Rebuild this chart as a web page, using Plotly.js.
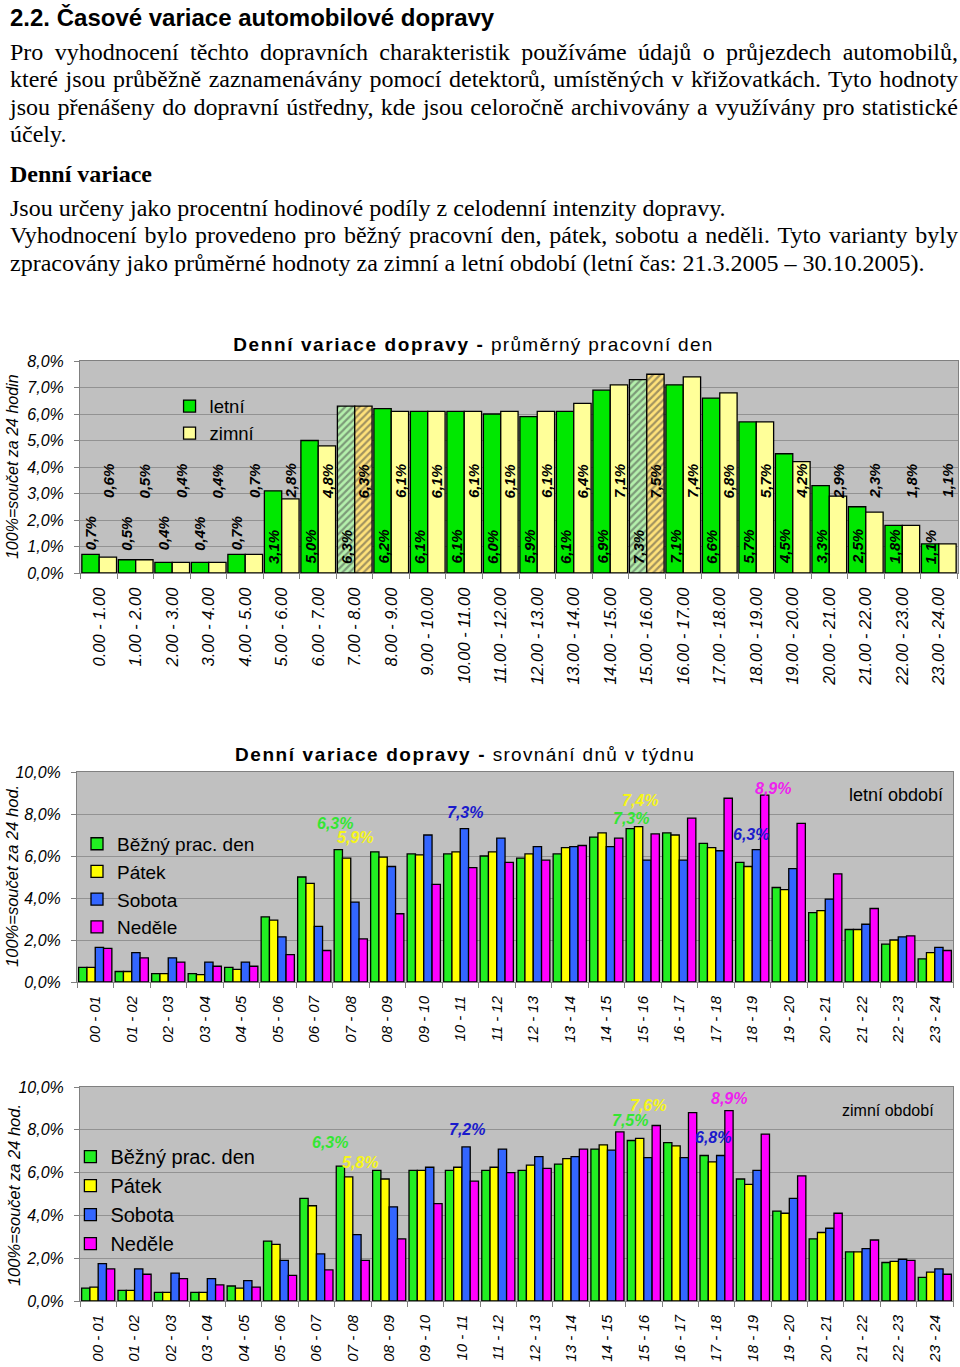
<!DOCTYPE html>
<html><head><meta charset="utf-8">
<script src="https://cdn.plot.ly/plotly-3.0.1.min.js"></script>
<style>
body{margin:0;background:#fff;width:960px;height:1367px;position:relative;overflow:hidden}
.t{position:absolute;left:10px;width:948px;font-family:"Liberation Serif","Times New Roman",serif;font-size:24px;line-height:28px;color:#000;white-space:nowrap}
.j{text-align:justify;text-align-last:justify}
.h{font-family:"Liberation Sans",Arial,sans-serif;font-weight:bold}
.b{font-weight:bold}
.c{position:absolute;left:0;width:960px}
</style></head><body>
<div class="t h" style="top:4px">2.2. Časové variace automobilové dopravy</div>
<div class="t j" style="top:38px">Pro vyhodnocení těchto dopravních charakteristik používáme údajů o průjezdech automobilů,</div>
<div class="t j" style="top:65px">které jsou průběžně zaznamenávány pomocí detektorů, umístěných v křižovatkách. Tyto hodnoty</div>
<div class="t j" style="top:93px">jsou přenášeny do dopravní ústředny, kde jsou celoročně archivovány a využívány pro statistické</div>
<div class="t" style="top:120px">účely.</div>
<div class="t b" style="top:160px">Denní variace</div>
<div class="t" style="top:194px">Jsou určeny jako procentní hodinové podíly z celodenní intenzity dopravy.</div>
<div class="t j" style="top:221px">Vyhodnocení bylo provedeno pro běžný pracovní den, pátek, sobotu a neděli. Tyto varianty byly</div>
<div class="t" style="top:249px">zpracovány jako průměrné hodnoty za zimní a letní období (letní čas: 21.3.2005 – 30.10.2005).</div>
<div id="c1" class="c" style="top:300px;height:400px"></div>
<div id="c2" class="c" style="top:720px;height:350px"></div>
<div id="c3" class="c" style="top:1070px;height:297px"></div>
<script>
// ---------- data ----------
const hours1 = ['0.00 - 1.00','1.00 - 2.00','2.00 - 3.00','3.00 - 4.00','4.00 - 5.00','5.00 - 6.00','6.00 - 7.00','7.00 - 8.00','8.00 - 9.00','9.00 - 10.00','10.00 - 11.00','11.00 - 12.00','12.00 - 13.00','13.00 - 14.00','14.00 - 15.00','15.00 - 16.00','16.00 - 17.00','17.00 - 18.00','18.00 - 19.00','19.00 - 20.00','20.00 - 21.00','21.00 - 22.00','22.00 - 23.00','23.00 - 24.00'];
const hours2 = ['00 - 01','01 - 02','02 - 03','03 - 04','04 - 05','05 - 06','06 - 07','07 - 08','08 - 09','09 - 10','10 - 11','11 - 12','12 - 13','13 - 14','14 - 15','15 - 16','16 - 17','17 - 18','18 - 19','19 - 20','20 - 21','21 - 22','22 - 23','23 - 24'];
const letni = [0.7,0.5,0.4,0.4,0.7,3.1,5.0,6.3,6.2,6.1,6.1,6.0,5.9,6.1,6.9,7.3,7.1,6.6,5.7,4.5,3.3,2.5,1.8,1.1];
const zimni = [0.6,0.5,0.4,0.4,0.7,2.8,4.8,6.3,6.1,6.1,6.1,6.1,6.1,6.4,7.1,7.5,7.4,6.8,5.7,4.2,2.9,2.3,1.8,1.1];
const peakHours = [7, 15];
const seasonNames = ['letní','zimní'];
const dayNames = ['Běžný prac. den','Pátek','Sobota','Neděle'];
// summer (letní období)
const patekLet  = [0.7,0.5,0.4,0.35,0.6,2.95,4.7,5.9,5.95,6.05,6.2,6.2,6.1,6.4,7.1,7.4,7.0,6.4,5.5,4.4,3.4,2.5,2.0,1.4];
const sobotaLet = [1.65,1.4,1.15,0.95,0.95,2.15,2.65,3.8,5.5,7.0,7.3,6.85,6.45,6.45,6.45,5.8,5.8,6.25,6.3,5.4,3.95,2.75,2.15,1.65];
const nedeleLet = [1.6,1.15,0.95,0.75,0.75,1.3,1.5,2.05,3.25,4.65,5.45,5.7,5.8,6.5,6.85,7.05,7.8,8.75,8.9,7.55,5.15,3.5,2.2,1.5];
// winter (zimní období)
const patekZim  = [0.65,0.5,0.4,0.4,0.6,2.65,4.45,5.8,5.7,6.1,6.25,6.25,6.35,6.65,7.3,7.6,7.25,6.5,5.45,4.1,3.2,2.3,1.85,1.35];
const sobotaZim = [1.75,1.5,1.3,1.05,0.95,1.9,2.2,3.1,4.4,6.25,7.2,7.1,6.75,6.75,7.05,6.7,6.7,6.8,6.1,4.8,3.4,2.45,1.95,1.5];
const nedeleZim = [1.5,1.25,1.05,0.75,0.65,1.2,1.45,1.9,2.9,4.55,5.6,6.0,6.2,7.1,7.9,8.2,8.8,8.9,7.8,5.85,4.1,2.85,1.9,1.25];
const yTicks1 = [0,1,2,3,4,5,6,7,8];
const yTickText1 = ['0,0%','1,0%','2,0%','3,0%','4,0%','5,0%','6,0%','7,0%','8,0%'];
const yTicks2 = [0,2,4,6,8,10];
const yTickText2 = ['0,0%','2,0%','4,0%','6,0%','8,0%','10,0%'];

// ---------- helpers ----------
const F = '"Liberation Sans", Arial, sans-serif';
const fmt = v => v.toFixed(1).replace('.', ',') + '%';
const ital = s => '<i>' + s + '</i>';
const cfg = {staticPlot:true, displayModeBar:false};
const tickF = s => ({family:F, size:s, color:'#000', style:'italic'});

function baseAxes(yr, tv, tt){
  return {
    xaxis:{type:'category', tickangle:-90, tickfont:tickF(16.5), ticks:'outside', tickson:'boundaries', ticklen:5,
      tickcolor:'#808080', showline:true, linecolor:'#808080', linewidth:1, mirror:true, showgrid:false,
      ticklabelstandoff:7, fixedrange:true},
    yaxis:{range:yr, tickvals:tv, ticktext:tt.map(ital), showgrid:true, gridcolor:'#929292', gridwidth:1, showline:true,
      linecolor:'#808080', linewidth:1, mirror:true, ticks:'outside', ticklen:5, tickcolor:'#808080',
      tickfont:tickF(16), zeroline:false, ticklabelstandoff:7, fixedrange:true}
  };
}

// ---------- chart 1 ----------
const isPeak = hours1.map((_, i) => peakHours.includes(i));
const tr1 = [
  {type:'bar', name:seasonNames[0], x:hours1, y:letni, hoverinfo:'skip',
   marker:{color:isPeak.map(p => p ? '#b4f0ac' : '#00e800'), line:{color:'#000', width:1.3},
     pattern:{shape:isPeak.map(p => p ? '/' : ''), fgcolor:'#10c810', fillmode:'overlay', size:5, solidity:0.45}}},
  {type:'bar', name:seasonNames[1], x:hours1, y:zimni, hoverinfo:'skip',
   marker:{color:isPeak.map(p => p ? '#ffe27a' : '#ffff99'), line:{color:'#000', width:1.3},
     pattern:{shape:isPeak.map(p => p ? '/' : ''), fgcolor:'#f0b400', fillmode:'overlay', size:5, solidity:0.45}}}
];
const ann1 = [];
hours1.forEach((h, i) => {
  ann1.push({x:h, y:(letni[i] < 1 ? 1.48 : 0.98), xref:'x', yref:'y', xshift:-8.7, text:'<b><i>'+fmt(letni[i])+'</i></b>',
    textangle:-90, showarrow:false, xanchor:'center', yanchor:'middle', font:{family:F, size:15, color:'#000'}});
  ann1.push({x:h, y:3.47, xref:'x', yref:'y', xshift:8.7, text:'<b><i>'+fmt(zimni[i])+'</i></b>',
    textangle:-90, showarrow:false, xanchor:'center', yanchor:'middle', font:{family:F, size:15, color:'#000'}});
});
ann1.push({xref:'paper', yref:'paper', x:-0.0774, y:0.5, text:'<i>100%=součet za 24 hodin</i>', textangle:-90,
  showarrow:false, xanchor:'center', yanchor:'middle', font:{family:F, size:16, color:'#000'}});
const ax1 = baseAxes([0,8], yTicks1, yTickText1);
Plotly.newPlot('c1', tr1, Object.assign({
  width:960, height:400, margin:{l:80, r:2, t:61, b:127}, paper_bgcolor:'#fff', plot_bgcolor:'#c0c0c0',
  barmode:'group', bargap:0.05, bargroupgap:0,
  title:{text:'<span style="letter-spacing:1.6px"><b>Denní variace dopravy -</b></span><span style="letter-spacing:1.3px"> průměrný pracovní den</span>',
    xref:'container', x:0.4932, xanchor:'center', yref:'container', y:0.889, yanchor:'middle', font:{family:F, size:19, color:'#000'}},
  legend:{x:0.102, y:0.875, xanchor:'left', yanchor:'top', bgcolor:'rgba(0,0,0,0)', font:{family:F, size:18.5, color:'#000'}},
  showlegend:true, annotations:ann1
}, ax1), cfg);

// ---------- charts 2, 3 ----------
const dayColors = ['#22ee22','#ffff00','#3366ff','#ff00ff'];
const labelColors = ['#33e633','#f5f51a','#1a1acc','#ee22ee'];
function weekChart(id, series, W, H, margin, legendPos, hl, ytitle, corner, title){
  const traces = series.map((s, k) => ({type:'bar', name:dayNames[k], x:hours2, y:s, hoverinfo:'skip',
    marker:{color:dayColors[k], line:{color:'#000', width:1.3}}}));
  const ann = hl.map(a => ({x:hours2[a.i], y:series[a.s][a.i], xref:'x', yref:'y', xshift:a.dx, yshift:a.dy,
    text:'<b><i>'+fmt(series[a.s][a.i])+'</i></b>', showarrow:false, xanchor:'center', yanchor:'middle',
    font:{family:F, size:16, color:labelColors[a.s]}}));
  ann.push({xref:'paper', yref:'paper', x:ytitle.x, y:ytitle.y, text:'<i>100%=součet za 24 hod.</i>', textangle:-90,
    showarrow:false, xanchor:'center', yanchor:'middle', font:{family:F, size:16.5, color:'#000'}});
  ann.push({xref:'paper', yref:'paper', x:corner.x, y:corner.y, text:corner.text, showarrow:false,
    xanchor:'center', yanchor:'middle', font:{family:F, size:corner.size, color:'#000'}});
  const ax = baseAxes([0,10], yTicks2, yTickText2);
  ax.xaxis.tickfont = tickF(15);
  const layout = Object.assign({
    width:W, height:H, margin:margin, paper_bgcolor:'#fff', plot_bgcolor:'#c0c0c0',
    barmode:'group', bargap:0.09, bargroupgap:0,
    legend:{x:legendPos.x, y:legendPos.y, xanchor:'left', yanchor:'top', bgcolor:'rgba(0,0,0,0)',
      font:{family:F, size:legendPos.size, color:'#000'}},
    showlegend:true, annotations:ann
  }, ax);
  if (title) layout.title = title;
  Plotly.newPlot(id, traces, layout, cfg);
}

weekChart('c2', [letni, patekLet, sobotaLet, nedeleLet], 960, 350, {l:77, r:7, t:52, b:88},
  {x:0.0, y:0.748, size:19},
  [{s:0,i:7,dx:-15.3,dy:25.7},{s:1,i:7,dx:4,dy:20.3},{s:2,i:10,dx:4.8,dy:16},{s:1,i:15,dx:-2.8,dy:26},
   {s:0,i:15,dx:-11.8,dy:10.7},{s:3,i:18,dx:20.3,dy:7},{s:2,i:18,dx:-1.3,dy:15.2}],
  {x:-0.0742, y:0.505},
  {x:0.9355, y:0.890, text:'letní období', size:18},
  {text:'<span style="letter-spacing:1.6px"><b>Denní variace dopravy -</b></span><span style="letter-spacing:1.3px"> srovnání dnů v týdnu</span>',
   xref:'container', x:465/960, xanchor:'center', yref:'container', y:1-34/350, yanchor:'middle', font:{family:F, size:19, color:'#000'}});

weekChart('c3', [zimni, patekZim, sobotaZim, nedeleZim], 960, 297, {l:80, r:7, t:17, b:66},
  {x:-0.011, y:0.766, size:20},
  [{s:0,i:7,dx:-22.8,dy:24},{s:1,i:7,dx:7.2,dy:14.4},{s:2,i:10,dx:5.1,dy:17.2},{s:0,i:15,dx:-13.8,dy:19.8},
   {s:1,i:15,dx:4.2,dy:32.9},{s:3,i:17,dx:12.4,dy:12.5},{s:2,i:17,dx:-3.6,dy:17.5}],
  {x:-0.0756, y:0.495},
  {x:0.9255, y:0.888, text:'zimní období', size:16},
  null);
</script>
</body></html>
